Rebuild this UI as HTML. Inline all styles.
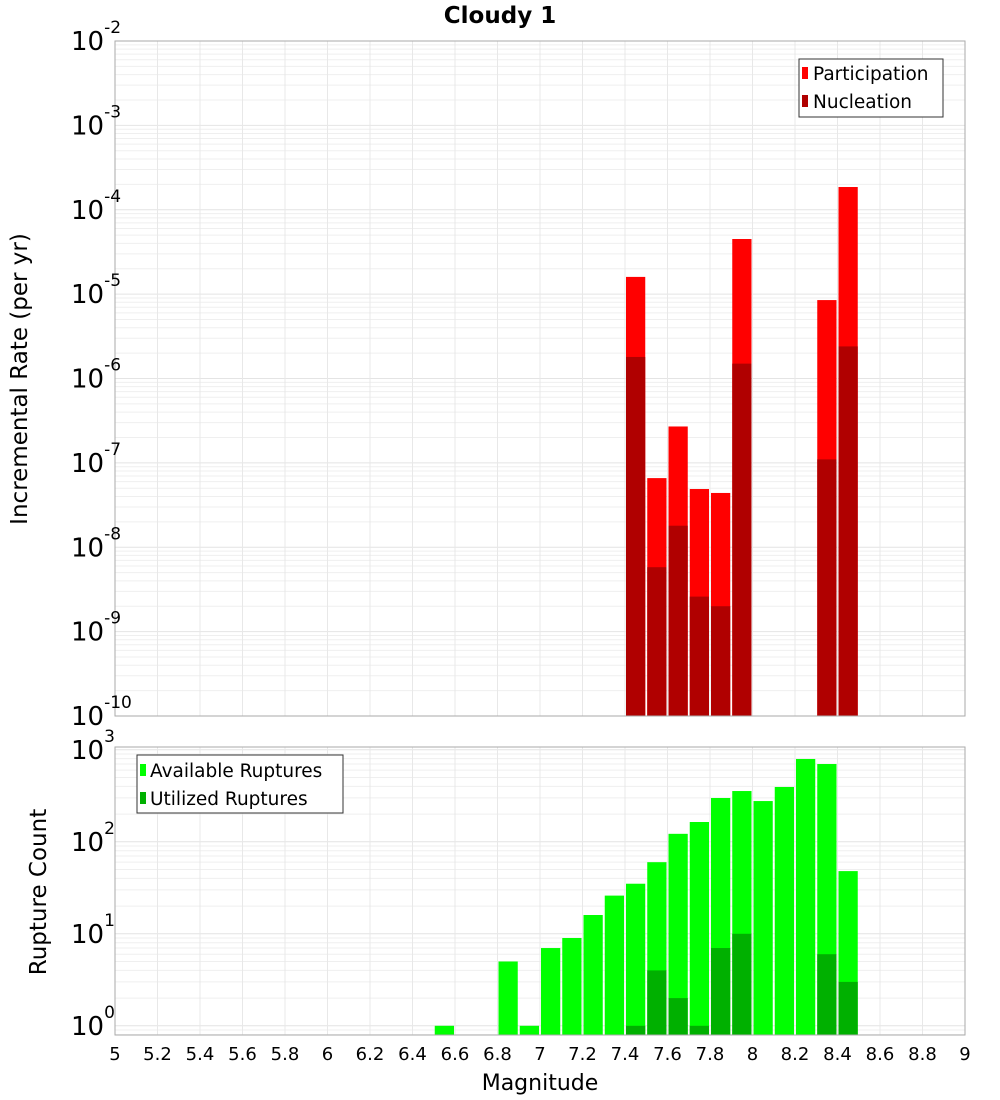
<!DOCTYPE html>
<html><head><meta charset="utf-8"><style>
body{margin:0;background:#fff;}
svg{display:block;font-family:"DejaVu Sans","Liberation Sans",sans-serif;}
</style></head><body>
<svg id="c" width="1000" height="1100"></svg>
<script>
const mags = [7.4,7.5,7.6,7.7,7.8,7.9,8.3,8.4];
const participation = [1.6e-5,6.6e-8,2.7e-7,4.9e-8,4.4e-8,4.5e-5,8.5e-6,1.86e-4];
const nucleation = [1.8e-6,5.8e-9,1.8e-8,2.6e-9,2.0e-9,1.5e-6,1.1e-7,2.4e-6];
const availMags = [6.5,6.8,6.9,7.0,7.1,7.2,7.3,7.4,7.5,7.6,7.7,7.8,7.9,8.0,8.1,8.2,8.3,8.4];
const available = [1,5,1,7,9,16,26,35,60,122,164,299,356,277,394,794,700,48];
const utilMags = [7.4,7.5,7.6,7.7,7.8,7.9,8.3,8.4];
const utilized = [1,4,2,1,7,10,6,3];
const xTicks = [5,5.2,5.4,5.6,5.8,6,6.2,6.4,6.6,6.8,7,7.2,7.4,7.6,7.8,8,8.2,8.4,8.6,8.8,9];
const topExps = [-2,-3,-4,-5,-6,-7,-8,-9,-10];
const botExps = [0,1,2,3];

const NS="http://www.w3.org/2000/svg";
const svg=document.getElementById('c');
function el(tag,attrs,parent){const e=document.createElementNS(NS,tag);for(const k in attrs)e.setAttribute(k,attrs[k]);(parent||svg).appendChild(e);return e;}
const L=115,R=965;
const X=m=>L+(m-5)*(R-L)/4;
const T0=41,T1=716;
const yTop=v=>T0+(-2-Math.log10(v))*(T1-T0)/8;
const B0=747,B1=1035,bMin=-0.1,bMax=3.03;
const yBot=v=>B1-(Math.log10(v)-bMin)*(B1-B0)/(bMax-bMin);

function grid(y0,y1,yf,eMin,eMax){
  const g=el('g',{});
  
  
  for(let e=eMin;e<=eMax;e++){for(let k=1;k<10;k++){const v=k*Math.pow(10,e);const y=yf(v);if(y<y0-0.5||y>y1+0.5)continue;
    el('line',{x1:L,x2:R,y1:y,y2:y,stroke:k==1?'#e4e4e4':'#efefef','stroke-width':1},g);}}
  xTicks.forEach(t=>{const x=X(t);el('line',{x1:x,x2:x,y1:y0,y2:y1,stroke:'#e8e8e8','stroke-width':1},g);});
}
grid(T0,T1,yTop,-11,-2);
grid(B0,B1,yBot,-1,3);

mags.forEach((m,i)=>{
  const x=X(m)+1,w=X(m+0.1)-X(m)-2;
  const p=el('rect',{x:x,y:yTop(participation[i]),width:w,height:T1-yTop(participation[i]),fill:'#ff0000'});
  
  
  const n=el('rect',{x:x,y:yTop(nucleation[i]),width:w,height:T1-yTop(nucleation[i]),fill:'#b00000'});
  
  
});
availMags.forEach((m,i)=>{
  const x=X(m)+1,w=X(m+0.1)-X(m)-2;
  const r=el('rect',{x:x,y:yBot(available[i]),width:w,height:B1-yBot(available[i]),fill:'#00ff00'});
  
  
});
utilMags.forEach((m,i)=>{
  const x=X(m)+1,w=X(m+0.1)-X(m)-2;
  const r=el('rect',{x:x,y:yBot(utilized[i]),width:w,height:B1-yBot(utilized[i]),fill:'#00b000'});
  
  
});
const f1=el('rect',{x:L,y:T0,width:R-L,height:T1-T0,fill:'none',stroke:'#aaa'});


const f2=el('rect',{x:L,y:B0,width:R-L,height:B1-B0,fill:'none',stroke:'#aaa'});



function ylab(y,e){
  const t=el('text',{x:71,y:y+9,'font-size':26,fill:'#000','font-family':'DejaVu Sans, sans-serif'});
  
  
  t.textContent='10';
  const s=el('tspan',{dy:-17,'font-size':17},t);s.textContent=e;
}
topExps.forEach(e=>ylab(yTop(Math.pow(10,e)),e));
botExps.forEach(e=>ylab(yBot(Math.pow(10,e)),e));
xTicks.forEach(t=>{
  const tx=el('text',{x:X(t),y:1060,'font-size':18,'text-anchor':'middle',fill:'#000','font-family':'DejaVu Sans, sans-serif'});
  
  
  tx.textContent=String(t);
});
</script>
<svg width="1000" height="1100" style="position:absolute;left:0;top:0">
<text x="500" y="23" font-size="23" font-weight="bold" text-anchor="middle" font-family="DejaVu Sans, sans-serif">Cloudy 1</text>
<text x="540" y="1090" font-size="22" text-anchor="middle" font-family="DejaVu Sans, sans-serif">Magnitude</text>
<text transform="translate(27,379) rotate(-90)" font-size="23" text-anchor="middle" font-family="DejaVu Sans, sans-serif">Incremental Rate (per yr)</text>
<text transform="translate(46,892) rotate(-90)" font-size="23" text-anchor="middle" font-family="DejaVu Sans, sans-serif">Rupture Count</text>
<g font-family="DejaVu Sans, sans-serif" font-size="18.5">
<rect x="799" y="59" width="144" height="58" fill="#fff" stroke="#333"/>
<rect x="802" y="67" width="6" height="12" fill="#ff0000"/>
<text x="813" y="80">Participation</text>
<rect x="802" y="95" width="6" height="12" fill="#b00000"/>
<text x="813" y="108">Nucleation</text>
</g>
<g font-family="DejaVu Sans, sans-serif" font-size="18.5">
<rect x="137" y="755" width="206" height="58" fill="#fff" stroke="#333"/>
<rect x="140" y="764" width="6" height="12" fill="#00ff00"/>
<text x="150" y="777">Available Ruptures</text>
<rect x="140" y="792" width="6" height="12" fill="#00b000"/>
<text x="150" y="805">Utilized Ruptures</text>
</g>
</svg>
</body></html>
